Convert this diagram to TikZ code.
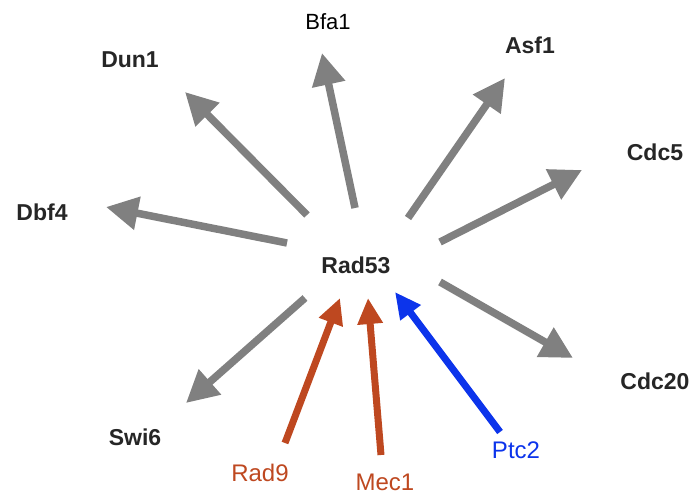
\documentclass[tikz,border=0pt]{standalone}
\usepackage{fontspec}
\setmainfont{Liberation Sans}
\usetikzlibrary{arrows.meta}

\definecolor{edgegray}{RGB}{128,128,128}
\definecolor{rustred}{RGB}{190,72,32}
\definecolor{pblue}{RGB}{12,52,235}

\begin{document}
\begin{tikzpicture}[x=1pt, y=-1pt,
    gene/.style={font=\bfseries\fontsize{23}{26}\selectfont, text=black!85},
    regul/.style={font=\fontsize{24}{28}\selectfont},
    target/.style={draw=edgegray, line width=7.5pt, -{Triangle[length=32pt, width=32pt]}},
    input/.style={line width=7pt, -{Triangle[length=26pt, width=24pt]}}]
    \useasboundingbox (0,0) rectangle (693,494);

    % Nodes
    \node[gene] (rad53) at (356,265) {Rad53};
    \node[font=\fontsize{22}{26}\selectfont] (bfa1) at (328,22) {Bfa1};
    \node[gene] (dun1) at (130,60) {Dun1};
    \node[gene] (asf1) at (530,45) {Asf1};
    \node[gene] (cdc5) at (655,152) {Cdc5};
    \node[gene] (dbf4) at (42,212) {Dbf4};
    \node[gene] (cdc20) at (655,381) {Cdc20};
    \node[gene] (swi6) at (135,437) {Swi6};
    \node[regul, text=rustred] (rad9) at (260,473) {Rad9};
    \node[regul, text=rustred] (mec1) at (385,482) {Mec1};
    \node[regul, text=pblue] (ptc2) at (516,450) {Ptc2};

    % Arrow ends
    \coordinate (bfa1-s) at (355,208);  \coordinate (bfa1-e) at (322,53);
    \coordinate (dun1-s) at (307,215);  \coordinate (dun1-e) at (185,92);
    \coordinate (asf1-s) at (408,218);  \coordinate (asf1-e) at (505,78);
    \coordinate (cdc5-s) at (440,242);  \coordinate (cdc5-e) at (582,170);
    \coordinate (dbf4-s) at (287,243);  \coordinate (dbf4-e) at (106,207);
    \coordinate (cdc20-s) at (440,282); \coordinate (cdc20-e) at (573,358);
    \coordinate (swi6-s) at (305,298);  \coordinate (swi6-e) at (186,403);
    \coordinate (rad9-s) at (285,443);  \coordinate (rad9-e) at (340,298);
    \coordinate (mec1-s) at (381,455);  \coordinate (mec1-e) at (368,298);
    \coordinate (ptc2-s) at (500,432);  \coordinate (ptc2-e) at (395,292);

    % Edges
    % Rad53 to targets
    \foreach \g in {bfa1, dun1, asf1, cdc5, dbf4, cdc20, swi6}
        \draw[target] (\g-s) -- (\g-e);

    % regulators to Rad53
    \draw[input, draw=rustred] (rad9-s) -- (rad9-e);
    \draw[input, draw=rustred] (mec1-s) -- (mec1-e);
    \draw[input, draw=pblue] (ptc2-s) -- (ptc2-e);

\end{tikzpicture}
\end{document}
